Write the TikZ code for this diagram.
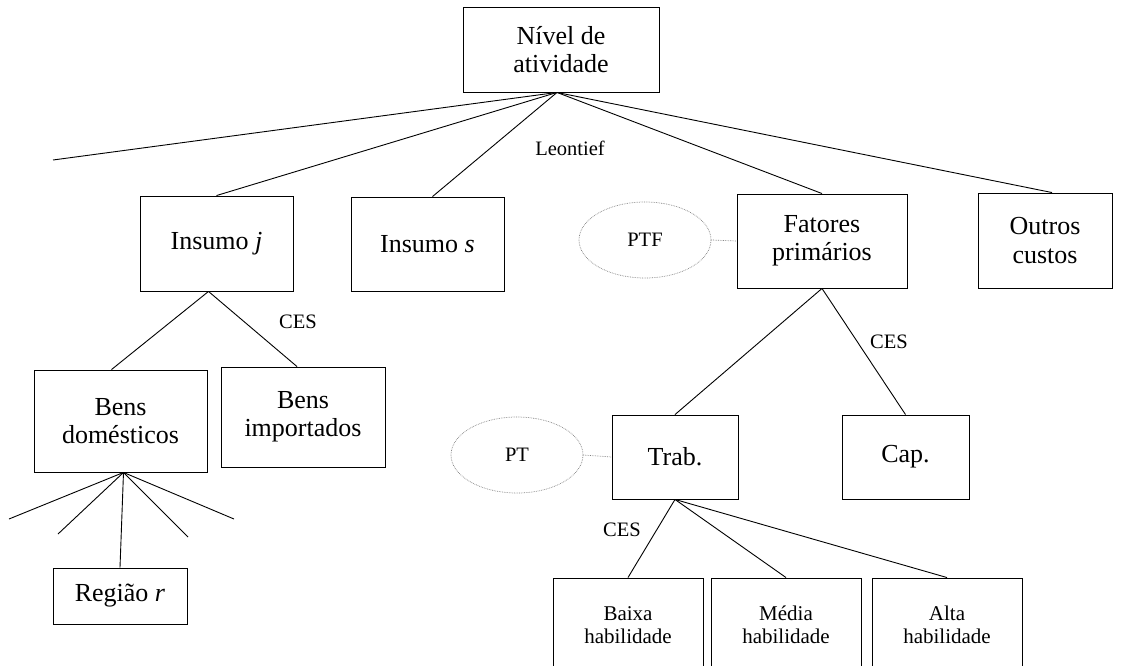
\documentclass[tikz,border=0pt]{standalone}
\usepackage{fontspec}
\setmainfont{Liberation Serif}
\usetikzlibrary{calc,shapes.geometric}
\tikzset{
  box/.style={draw=black, line width=0.9pt, rectangle, inner sep=0pt, align=center,
              font=\fontsize{26}{28.5}\selectfont},
  smallbox/.style={box, font=\fontsize{21}{23}\selectfont},
  oval/.style={draw=gray, densely dotted, line width=0.7pt, ellipse, inner sep=0pt,
               minimum width=132pt, minimum height=76pt, font=\fontsize{20.5}{22}\selectfont},
  link/.style={draw=black, line width=0.9pt},
  dlink/.style={draw=gray, densely dotted, line width=0.7pt},
  lbl/.style={font=\fontsize{20.5}{22}\selectfont, inner sep=0pt}
}
\begin{document}
\begin{tikzpicture}[x=1pt,y=-1pt]
\clip (0,0) rectangle (1127,666);
\fill[white] (0,0) rectangle (1127,666);

% boxes
\node[box, minimum width=196pt, minimum height=85pt] (top) at (561,49.5) {N\'ivel de\\atividade};
\node[box, minimum width=153pt, minimum height=95pt] (insj) at (216.5,243.5) {Insumo \textit{j}};
\node[box, minimum width=153pt, minimum height=94pt] (inss) at (427.5,244) {Insumo \textit{s}};
\node[box, minimum width=170pt, minimum height=94pt] (fat) at (822,241) {Fatores\\prim\'arios};
\node[box, minimum width=134pt, minimum height=95pt] (outros) at (1045,240.5) {Outros\\custos};
\node[box, minimum width=173pt, minimum height=102pt] (bdom) at (120.5,421) {Bens\\dom\'esticos};
\node[box, minimum width=164pt, minimum height=100pt] (bimp) at (303,417) {Bens\\importados};
\node[box, minimum width=134pt, minimum height=56pt] (regiao) at (120,596) {Regi\~ao \textit{r}};
\node[box, minimum width=126pt, minimum height=84pt] (trab) at (675,457) {Trab.};
\node[box, minimum width=127pt, minimum height=84pt] (cap) at (905.5,457) {Cap.};
\node[smallbox, minimum width=150pt, minimum height=94pt] (baixa) at (628,625) {Baixa\\habilidade};
\node[smallbox, minimum width=150pt, minimum height=94pt] (media) at (786,625) {M\'edia\\habilidade};
\node[smallbox, minimum width=150pt, minimum height=94pt] (alta) at (947,625) {Alta\\habilidade};

% ellipses
\node[oval] (ptf) at (645,240) {PTF};
\node[oval] (pt) at (517,455) {PT};

% apex points and free ends
\coordinate (topapex) at ($(top.south)+(-4,0)$);
\coordinate (insjapex) at ($(insj.south)+(-8,0)$);
\coordinate (bdomapex) at ($(bdom.south)+(3,0)$);
\coordinate (lfree) at (53,160);
\coordinate (r1) at (9,519);
\coordinate (r2) at (58,534);
\coordinate (r3) at (188,537);
\coordinate (r4) at (234,519);

% connectors
\draw[link] (topapex) -- (lfree);
\draw[link] (topapex) -- (insj.north);
\draw[link] (topapex) -- ($(inss.north)+(5,0)$);
\draw[link] (topapex) -- (fat.north);
\draw[link] (topapex) -- ($(outros.north)+(7,0)$);

\draw[link] (insjapex) -- ($(bdom.north)+(-9,0)$);
\draw[link] (insjapex) -- ($(bimp.north)+(-6,0)$);

\draw[link] (bdomapex) -- (r1);
\draw[link] (bdomapex) -- (r2);
\draw[link] (bdomapex) -- (regiao.north);
\draw[link] (bdomapex) -- (r3);
\draw[link] (bdomapex) -- (r4);

\draw[link] (fat.south) -- (trab.north);
\draw[link] (fat.south) -- (cap.north);

\draw[link] (trab.south) -- (baixa.north);
\draw[link] (trab.south) -- (media.north);
\draw[link] (trab.south) -- (alta.north);

\draw[dlink] (ptf.east) -- (fat.west);
\draw[dlink] (pt.east) -- (trab.west);

% labels
\node[lbl] (leon) at (570,148) {Leontief};
\node[lbl] (ces1) at (298,322) {CES};
\node[lbl] (ces2) at (889,342) {CES};
\node[lbl] (ces3) at (622,530) {CES};
\end{tikzpicture}
\end{document}
